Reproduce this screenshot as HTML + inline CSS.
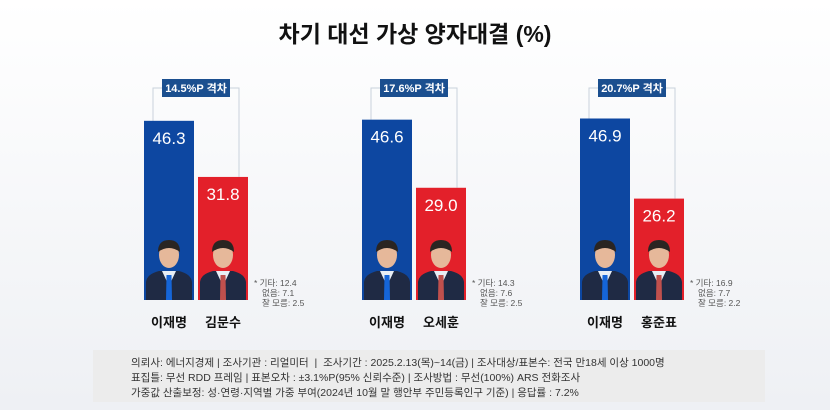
<!DOCTYPE html>
<html><head><meta charset="utf-8"><style>
html,body{margin:0;padding:0;width:830px;height:410px;overflow:hidden;background:linear-gradient(#ffffff,#eef0f4);font-family:"Liberation Sans","Noto Sans CJK KR",sans-serif;}
svg{display:block}
</style></head><body>
<svg id="chart" width="830" height="410" xmlns="http://www.w3.org/2000/svg">
<text x="415" y="42" text-anchor="middle" font-size="23" font-weight="bold" fill="#111" font-family="Liberation Sans, Noto Sans CJK KR, sans-serif">차기 대선 가상 양자대결 (%)</text>
<g id="marks"></g>
<rect x="93" y="350" width="672" height="52" fill="#ececec"/>
<g font-size="10.5" fill="#333" font-family="Liberation Sans, Noto Sans CJK KR, sans-serif">
<text x="131" y="366">의뢰사: 에너지경제 | 조사기관 : 리얼미터 &#160;| &#160;조사기간 : 2025.2.13(목)~14(금) | 조사대상/표본수: 전국 만18세 이상 1000명</text>
<text x="131" y="381">표집틀: 무선 RDD 프레임 | 표본오차 : ±3.1%P(95% 신뢰수준) | 조사방법 : 무선(100%) ARS 전화조사</text>
<text x="131" y="396">가중값 산출보정: 성·연령·지역별 가중 부여(2024년 10월 말 행안부 주민등록인구 기준) | 응답률 : 7.2%</text>
</g>
</svg>
<script>
const blueNames = ["이재명","이재명","이재명"];
const redNames = ["김문수","오세훈","홍준표"];
const blueValues = [46.3,46.6,46.9];
const redValues = [31.8,29.0,26.2];
const gapLabels = ["14.5%P 격차","17.6%P 격차","20.7%P 격차"];
const otherVals = [12.4,14.3,16.9];
const noneVals = [7.1,7.6,7.7];
const dkVals = [2.5,2.5,2.2];

const NS="http://www.w3.org/2000/svg";
const base=300, scale=3.87;
const groupX=[144,362,580];
const y=v=>base-v*scale;
const g=document.getElementById('marks');
function mk(tag,attrs,text){const e=document.createElementNS(NS,tag);for(const k in attrs)e.setAttribute(k,attrs[k]);if(text!==undefined)e.textContent=text;g.appendChild(e);return e;}
function person(cx,yTop,tie){
  let s=mk('path',{d:`M${cx-23} ${base} L${cx-23} ${yTop+44} Q${cx-22} ${yTop+36} ${cx-10} ${yTop+33} L${cx+10} ${yTop+33} Q${cx+22} ${yTop+36} ${cx+23} ${yTop+44} L${cx+23} ${base} Z`,fill:'#1f2a44'});
  
  let sh=mk('path',{d:`M${cx-7} ${yTop+33} L${cx} ${yTop+48} L${cx+7} ${yTop+33} Z`,fill:'#e8eef5'});
  
  let t=mk('path',{d:`M${cx-2.5} ${yTop+37} L${cx+2.5} ${yTop+37} L${cx+3} ${base} L${cx-3} ${base} Z`,fill:tie});
  
  let f=mk('ellipse',{cx:cx,cy:yTop+17,rx:10,ry:13,fill:'#e6b89a'});
  
  let h=mk('path',{d:`M${cx-11} ${yTop+14} Q${cx-11} ${yTop+2} ${cx} ${yTop+2} Q${cx+11} ${yTop+2} ${cx+11} ${yTop+14} Q${cx} ${yTop+6} ${cx-11} ${yTop+14} Z`,fill:'#2a2522'});
  
}
for(let i=0;i<3;i++){
  const bx=groupX[i], rx=bx+54, w=50;
  const by=y(blueValues[i]), ry=y(redValues[i]);
  let br=mk('path',{d:`M${bx+9} ${by} L${bx+9} ${88} L${rx+41} 88 L${rx+41} ${ry}`,fill:'none',stroke:'#c9d2dc','stroke-width':1});
  
  let b=mk('rect',{x:bx,y:by,width:w,height:base-by,fill:'#0d47a1'});
  
  let r=mk('rect',{x:rx,y:ry,width:w,height:base-ry,fill:'#e3202a'});
  
  let bv=mk('text',{x:bx+w/2,y:by+23,'text-anchor':'middle','font-size':17,fill:'#fff'},blueValues[i].toFixed(1));
  
  let rv=mk('text',{x:rx+w/2,y:ry+23,'text-anchor':'middle','font-size':17,fill:'#fff'},redValues[i].toFixed(1));
  
  person(bx+w/2,238,'#1565d8');
  person(rx+w/2,238,'#c0504d');
  const cx=(bx+rx+w)/2;
  let gb=mk('rect',{x:cx-34,y:79,width:68,height:18,fill:'#1b4f8f'});
  
  let gt=mk('text',{x:cx,y:92,'text-anchor':'middle','font-size':11,'font-weight':'bold',fill:'#fff'},gapLabels[i]);
  
  let n1=mk('text',{x:bx+w/2,y:327,'text-anchor':'middle','font-size':13,'font-weight':'bold',fill:'#111'},blueNames[i]);
  
  let n2=mk('text',{x:rx+w/2,y:327,'text-anchor':'middle','font-size':13,'font-weight':'bold',fill:'#111'},redNames[i]);
  
  const nx=rx+w+6;
  let o1=mk('text',{x:nx,y:286,'font-size':8.5,fill:'#555'},'* 기타: '+otherVals[i].toFixed(1));
  
  let o2=mk('text',{x:nx+8,y:296,'font-size':8.5,fill:'#555'},'없음: '+noneVals[i].toFixed(1));
  
  let o3=mk('text',{x:nx+8,y:306,'font-size':8.5,fill:'#555'},'잘 모름: '+dkVals[i].toFixed(1));
  
}
</script>
</body></html>
